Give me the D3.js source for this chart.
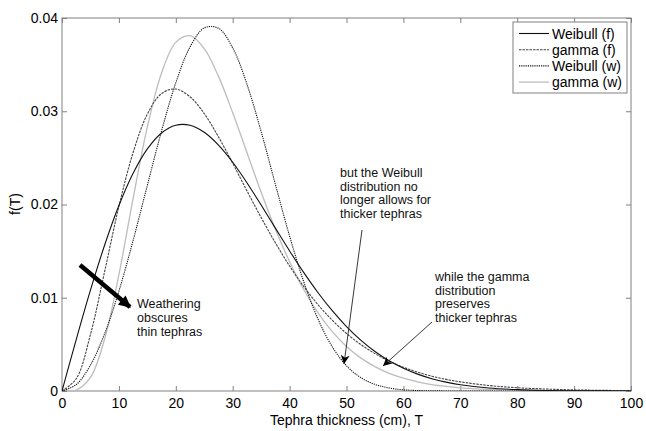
<!DOCTYPE html>
<html><head><meta charset="utf-8">
<script src="https://cdn.jsdelivr.net/npm/d3@7"></script>
<style>
body{margin:0;background:#fff;}
text{font-family:"Liberation Sans",Arial,sans-serif;}
</style></head>
<body><svg id="c" width="646" height="431"></svg>
<script>
// Tephra thickness T (cm)
const thickness = [0,2.5,5,7.5,10,12.5,15,17.5,20,22.5,25,27.5,30,32.5,35,37.5,40,42.5,45,47.5,50,52.5,55,57.5,60,62.5,65,67.5,70,75,80,85,90,95,100];
const weibullF = [0,0.00552,0.01081,0.01566,0.01989,0.02335,0.02596,0.02767,0.02850,0.02849,0.02774,0.02637,0.02453,0.02234,0.01994,0.01747,0.01502,0.01269,0.01054,0.00861,0.00691,0.00546,0.00424,0.00324,0.00244,0.00181,0.00132,0.00095,0.00067,0.00032,0.000145,0.00006,0.000025,0.00001,0.000003];
const gammaF = [0,0.00132,0.00606,0.01283,0.01979,0.02558,0.02969,0.03190,0.03238,0.03155,0.02975,0.02725,0.02443,0.02147,0.01860,0.01589,0.01340,0.01119,0.00925,0.00759,0.00617,0.00499,0.00401,0.00320,0.00255,0.00202,0.00159,0.00125,0.00098,0.00059,0.00035,0.00021,0.00012,0.00007,0.00004];
const weibullW = [0,0.00069,0.00277,0.00615,0.01071,0.01615,0.02206,0.02790,0.03305,0.03689,0.03893,0.03890,0.03679,0.03291,0.02781,0.02216,0.01661,0.01169,0.00770,0.00474,0.00271,0.00144,0.00071,0.00032,0.00013,0.00005,0.00002,0.000006,0.000002,0,0,0,0,0,0];
const gammaW = [0,0.00010,0.00146,0.00560,0.01248,0.02065,0.02832,0.03411,0.03739,0.03810,0.03671,0.03374,0.02984,0.02558,0.02131,0.01736,0.01386,0.01086,0.00838,0.00636,0.00478,0.00355,0.00261,0.00189,0.00137,0.00098,0.00069,0.00049,0.00034,0.00017,0.00008,0.00004,0.000017,0.000008,0.000003];
const seriesNames = ["Weibull (f)","gamma (f)","Weibull (w)","gamma (w)"];
const xTicks = [0,10,20,30,40,50,60,70,80,90,100];
const yTicks = [0,0.01,0.02,0.03,0.04];
const annoThin = ["Weathering","obscures","thin tephras"];
const annoWeibull = ["but the Weibull","distribution no","longer allows for","thicker tephras"];
const annoGamma = ["while the gamma","distribution","preserves","thicker tephras"];

const svg = d3.select("#c");
const L=62, R=631, T=18, B=391;
const x = d3.scaleLinear().domain([0,100]).range([L,R]);
const y = d3.scaleLinear().domain([0,0.04]).range([B,T]);

const styles = [
  {stroke:"#111", dash:null, w:1.1},
  {stroke:"#444", dash:"2.5,1", w:1.1},
  {stroke:"#111", dash:"1.2,1", w:1.1},
  {stroke:"#bdbdbd", dash:null, w:1.3}
];
const allSeries = [weibullF, gammaF, weibullW, gammaW];

svg.append("defs").append("clipPath").attr("id","clip").append("rect")
  .attr("x",L).attr("y",T-5).attr("width",R-L).attr("height",B-T+5);

// frame
svg.append("rect").attr("x",L).attr("y",T).attr("width",R-L).attr("height",B-T)
  .attr("fill","none").attr("stroke","#808080").attr("stroke-width",1);

// axes (ticks inward)
const axCol="#808080";
function styleAxis(g){ g.select(".domain").remove(); g.selectAll(".tick line").attr("stroke",axCol); g.selectAll(".tick text").attr("fill","#000").attr("font-size",14); }
svg.append("g").attr("transform",`translate(0,${B})`)
  .call(d3.axisBottom(x).tickValues(xTicks).tickSizeInner(-5).tickPadding(7).tickFormat(d3.format("d"))).call(styleAxis);
svg.append("g").attr("transform",`translate(0,${T})`)
  .call(d3.axisTop(x).tickValues(xTicks).tickSizeInner(-5).tickFormat("")).call(styleAxis);
svg.append("g").attr("transform",`translate(${L},0)`)
  .call(d3.axisLeft(y).tickValues(yTicks).tickSizeInner(-5).tickPadding(4).tickFormat(d=>d===0?"0":d3.format(".2f")(d))).call(styleAxis);
svg.append("g").attr("transform",`translate(${R},0)`)
  .call(d3.axisRight(y).tickValues(yTicks).tickSizeInner(-5).tickFormat("")).call(styleAxis);

// curves
const line = d3.line().x((d,i)=>x(thickness[i])).y(d=>y(d)).curve(d3.curveCatmullRom.alpha(0.5));
const order=[3,1,2,0];
const cg = svg.append("g").attr("clip-path","url(#clip)");
order.forEach(k=>{
  cg.append("path").datum(allSeries[k]).attr("d",line)
    .attr("fill","none").attr("stroke",styles[k].stroke).attr("stroke-width",styles[k].w)
    .attr("stroke-dasharray",styles[k].dash);
});

// axis labels
svg.append("text").attr("x",(L+R)/2).attr("y",425).attr("text-anchor","middle").attr("font-size",14).text("Tephra thickness (cm), T");
svg.append("text").attr("transform","translate(20,204) rotate(-90)").attr("text-anchor","middle").attr("font-size",14).text("f(T)");

// legend
const lg = svg.append("g");
lg.append("rect").attr("x",513).attr("y",22).attr("width",114).attr("height",71).attr("fill","#fff").attr("stroke","#808080");
seriesNames.forEach((n,i)=>{
  const yy = 33.5 + i*16.2;
  lg.append("line").attr("x1",519).attr("x2",549).attr("y1",yy).attr("y2",yy)
    .attr("stroke",styles[i].stroke).attr("stroke-width",styles[i].w).attr("stroke-dasharray",styles[i].dash);
  lg.append("text").attr("x",552).attr("y",yy+5).attr("font-size",14).text(n);
});

// annotations
const defs = svg.append("defs");
defs.append("marker").attr("id","ah").attr("viewBox","0 0 10 10").attr("refX",10).attr("refY",5)
  .attr("markerWidth",9).attr("markerHeight",9).attr("markerUnits","userSpaceOnUse").attr("orient","auto")
  .append("path").attr("d","M0,0 L10,5 L0,10 L3,5 Z").attr("fill","#000");
defs.append("marker").attr("id","ahBig").attr("viewBox","0 0 10 10").attr("refX",9).attr("refY",5)
  .attr("markerWidth",14).attr("markerHeight",12).attr("markerUnits","userSpaceOnUse").attr("orient","auto")
  .append("path").attr("d","M0,0 L10,5 L0,10 Z").attr("fill","#000");

svg.append("line").attr("x1",80).attr("y1",265).attr("x2",130).attr("y2",307)
  .attr("stroke","#000").attr("stroke-width",4.5).attr("marker-end","url(#ahBig)");
svg.append("line").attr("x1",362).attr("y1",230).attr("x2",344).attr("y2",364)
  .attr("stroke","#222").attr("stroke-width",0.9).attr("marker-end","url(#ah)");
svg.append("line").attr("x1",432).attr("y1",322).attr("x2",383).attr("y2",366)
  .attr("stroke","#222").attr("stroke-width",0.9).attr("marker-end","url(#ah)");

function block(lines,x0,y0,dy){
  const t = svg.append("text").attr("font-size",12.5).attr("fill","#111");
  lines.forEach((s,i)=>t.append("tspan").attr("x",x0).attr("y",y0+i*dy).text(s));
}
block(annoThin,137,308,14);
block(annoWeibull,340,177,13.6);
block(annoGamma,435,281,13.5);
</script></body></html>
